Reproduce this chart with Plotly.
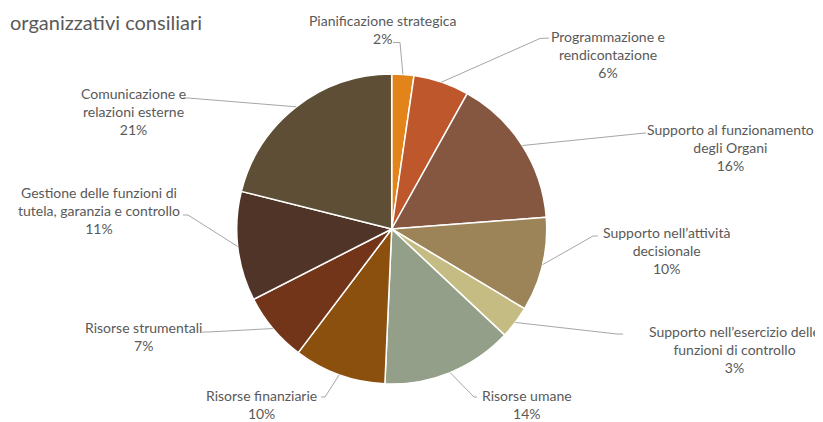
import math
import plotly.graph_objects as go

# ---- data ----
labels = [
    "Pianificazione strategica",
    "Programmazione e<br>rendicontazione",
    "Supporto al funzionamento<br>degli Organi",
    "Supporto nell\u2019attività<br>decisionale",
    "Supporto nell\u2019esercizio delle<br>funzioni di controllo",
    "Risorse umane",
    "Risorse finanziarie",
    "Risorse strumentali",
    "Gestione delle funzioni di<br>tutela, garanzia e controllo",
    "Comunicazione e<br>relazioni esterne",
]
values = [2.3, 5.8, 15.7, 9.8, 3.4, 13.7, 9.6, 7.2, 11.4, 21.1]
title_text = "organizzativi consiliari"

# ---- styles / layout ----
colors = ["#E3841A", "#BE582C", "#855640", "#9C8358", "#C4BC82",
          "#939F88", "#8B4F0E", "#733519", "#503427", "#5D4E35"]
OFF = 8  # page body margin
W, H = 823 - OFF, 422 - OFF
CX, CY, R = 391.7, 229.0, 155.0
FONT = "Lato"
TXT = "#595959"
# label block centers (px in window) and leader endpoints at label side: [end, elbow]
label_pos = [(383, 29), (608, 54), (730, 148), (666, 250), (734, 349),
             (527, 404.5), (262, 404.5), (143, 336), (99, 211), (133, 111)]
leader_pts = [[(393, 42.5), (400, 42.5)], [(549, 38), (540, 38.5)],
              [(646, 133), (640, 133.5)], [(598, 236), (593, 236)],
              [(623, 334), (617, 334)], [(477, 397), (474, 397)],
              [(321, 397), (325, 397)], [(202, 332), (208, 332)],
              [(183, 215), (188, 215)], [(183, 98), (188, 98)]]

def px(x):
    return (x - OFF) / W

def py(y):
    return 1 - (y - OFF) / H

fig = go.Figure(go.Pie(
    labels=[l.replace("<br>", " ") for l in labels],
    values=values,
    sort=False,
    direction="clockwise",
    rotation=0,
    marker=dict(colors=colors, line=dict(color="white", width=1.5)),
    textinfo="none",
    hoverinfo="label+percent",
    domain=dict(x=[px(CX - R), px(CX + R)], y=[py(CY + R), py(CY - R)]),
    showlegend=False,
))

total = sum(values)
cum = 0.0
shapes = []
annotations = []
for i, v in enumerate(values):
    mid = (cum + v / 2) / total * 2 * math.pi
    cum += v
    ex = CX + R * math.sin(mid)
    ey = CY - R * math.cos(mid)
    (x0, y0), (x1, y1) = leader_pts[i]
    path = f"M {px(x0)},{py(y0)} L {px(x1)},{py(y1)} L {px(ex)},{py(ey)}"
    shapes.append(dict(type="path", xref="paper", yref="paper", path=path,
                       line=dict(color="#A6A6A6", width=1)))
    pct = round(v / total * 100)
    lx, ly = label_pos[i]
    annotations.append(dict(
        x=px(lx), y=py(ly), xref="paper", yref="paper",
        text=f"{labels[i]}<br>{pct}%", showarrow=False, align="center",
        xanchor="center", yanchor="middle",
        font=dict(family=FONT, size=14, color=TXT)))

annotations.append(dict(
    x=0, y=py(22), xref="paper", yref="paper", text=title_text,
    showarrow=False, xanchor="left", yanchor="middle",
    font=dict(family=FONT, size=20, color=TXT)))

fig.update_layout(
    width=W, height=H,
    margin=dict(l=0, r=0, t=0, b=0),
    paper_bgcolor="white", plot_bgcolor="white",
    shapes=shapes, annotations=annotations,
)
fig.write_html("out.html")
